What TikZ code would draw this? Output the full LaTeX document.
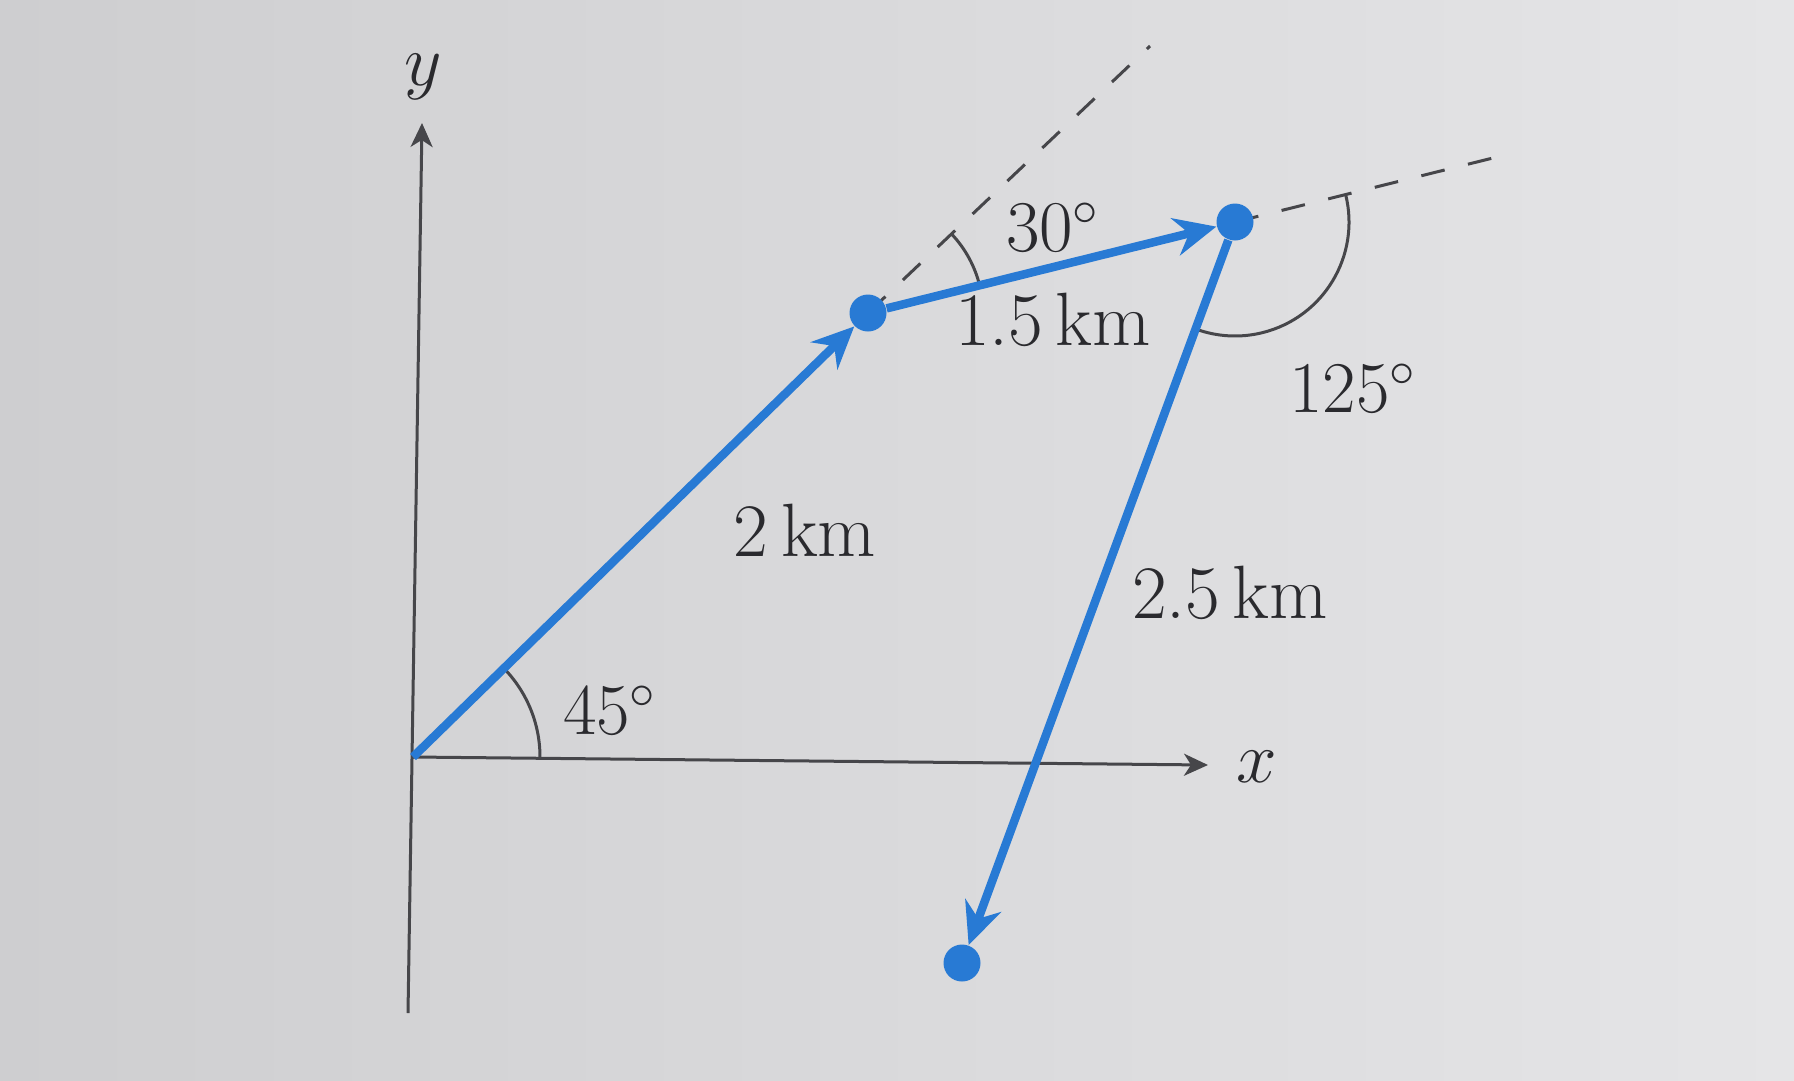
\documentclass[tikz,border=0pt]{standalone}
\usepackage{fontspec}
\setmainfont{Latin Modern Roman}
\usetikzlibrary{arrows.meta,calc}
\definecolor{vecblue}{RGB}{40,122,212}
\definecolor{ink}{RGB}{42,42,46}
\definecolor{axisgray}{RGB}{70,70,74}
\definecolor{bgleft}{RGB}{206,206,208}
\definecolor{bgright}{RGB}{229,229,231}
\begin{document}
\begin{tikzpicture}[x=0.1mm,y=0.1mm,
  vec/.style={draw=vecblue, line width=0.85mm, -{Stealth[length=4.2mm,width=3.8mm,inset=1.4mm]}},
  dot/.style={circle, fill=vecblue, inner sep=0pt, minimum size=3.7mm},
  axis/.style={draw=axisgray, line width=0.3mm, -{Stealth[length=2.4mm,width=2.2mm,inset=0.7mm]}},
  guide/.style={draw=axisgray, line width=0.3mm, dash pattern=on 2.4mm off 2.4mm},
  anglearc/.style={draw=axisgray, line width=0.3mm},
  lbl/.style={text=ink, font=\fontsize{21.5}{26}\selectfont, inner sep=0pt}
]
\shade[left color=bgleft, right color=bgright] (0,0) rectangle (1794,1080);
\useasboundingbox (0,0) rectangle (1794,1080);

% key points
\coordinate (O) at (413,323);
\coordinate (Ybot) at (408,67);
\coordinate (Ytop) at (422,957);
\coordinate (Xend) at (1208,315);
\coordinate (Aext) at (1150,1034);
\coordinate (Bext) at (1505,925);
\coordinate (Apos) at (868,767);
\coordinate (Bpos) at (1235,858);
\coordinate (Cpos) at (962,117);

% axes
\draw[axis] (Ybot) -- (Ytop);
\draw[axis] (O) -- (Xend);
\node[lbl] (ylab) at (423,1003) {$y$};
\node[lbl] (xlab) at (1257,313) {$x$};

% guide lines
\draw[guide] (Apos) -- (Aext);
\draw[guide] (Bpos) -- (Bext);

% angle arcs
\draw[anglearc] ($(O)+(-0.5:127)$) arc[start angle=-0.5, end angle=44.3, radius=127];
\draw[anglearc] ($(Apos)+(13.9:115)$) arc[start angle=13.9, end angle=43.4, radius=115];
\draw[anglearc] ($(Bpos)+(13.9:114)$) arc[start angle=13.9, end angle=-110.2, radius=114];

% dots
\node[dot] (A) at (Apos) {};
\node[dot] (B) at (Bpos) {};
\node[dot] (C) at (Cpos) {};

% vectors
\draw[vec] (O) -- (A);
\draw[vec] (A) -- (B);
\draw[vec] (B) -- (C);

% labels
\node[lbl] (a45) at (610,370) {$45^\circ$};
\node[lbl] (d2) at (805,550) {2\,km};
\node[lbl] (a30) at (1053,853) {$30^\circ$};
\node[lbl] (d15) at (1053,760) {1.5\,km};
\node[lbl] (a125) at (1353,692) {$125^\circ$};
\node[lbl] (d25) at (1230,487) {2.5\,km};
\end{tikzpicture}
\end{document}
